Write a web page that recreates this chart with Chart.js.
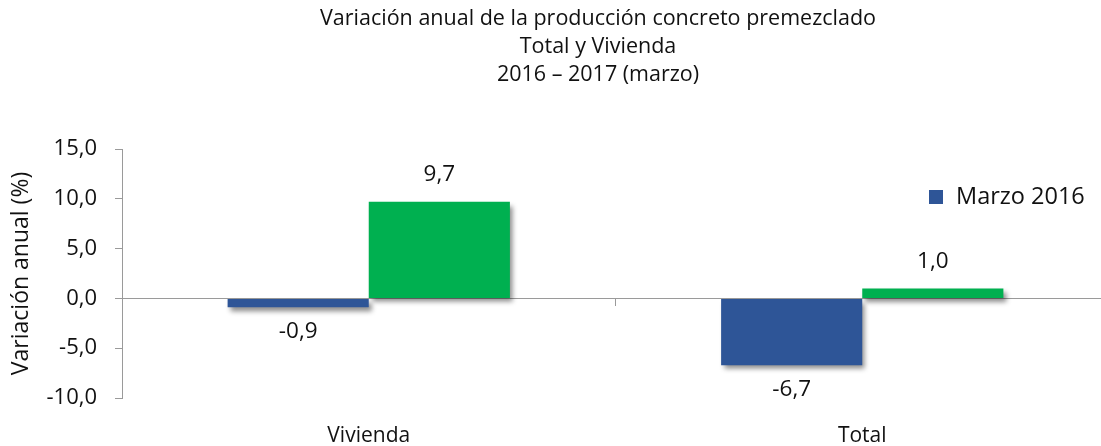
<!DOCTYPE html>
<html>
<head>
<meta charset="utf-8">
<script src="https://cdn.jsdelivr.net/npm/chart.js@4"></script>
<style>
  html, body { margin: 0; padding: 0; background: #fff; overflow: hidden; }
  #wrap { width: 1110px; height: 446px; }
</style>
</head>
<body>
<div id="wrap"><canvas id="myChart" width="1110" height="446"></canvas></div>
<script>
const categories = ['Vivienda', 'Total'];
const marzo2016 = [-0.9, -6.7];
const marzo2017 = [9.7, 1.0];
const seriesNames = ['Marzo 2016', 'Marzo 2017'];
const titleLines = [
  'Variación anual de la producción concreto premezclado',
  'Total y Vivienda',
  '2016 – 2017 (marzo)'
];
const yTitle = 'Variación anual (%)';

const FONT = "'Open Sans', 'Noto Sans', sans-serif";
const fmt = v => v.toFixed(1).replace('.', ',');

// title lines, drawn a bit left of canvas centre like the original
const titlePlugin = {
  id: 'titleLines',
  afterDraw(chart) {
    const ctx = chart.ctx;
    ctx.save();
    ctx.font = '21.5px ' + FONT;
    ctx.fillStyle = '#111';
    ctx.textAlign = 'center';
    ctx.textBaseline = 'middle';
    titleLines.forEach((t, i) => ctx.fillText(t, 598, 19 + i * 28));
    ctx.restore();
  }
};

// soft drop shadow under the bars
const shadowPlugin = {
  id: 'barShadow',
  beforeDatasetsDraw(chart) {
    const ctx = chart.ctx;
    ctx.save();
    ctx.shadowColor = 'rgba(0,0,0,0.45)';
    ctx.shadowBlur = 5;
    ctx.shadowOffsetX = 3;
    ctx.shadowOffsetY = 4;
  },
  afterDatasetsDraw(chart) {
    chart.ctx.restore();
  }
};

// value labels above / below each bar
const valuePlugin = {
  id: 'values',
  afterDatasetsDraw(chart) {
    const ctx = chart.ctx;
    ctx.save();
    ctx.font = '22.5px ' + FONT;
    ctx.fillStyle = '#111';
    ctx.textAlign = 'center';
    ctx.textBaseline = 'middle';
    chart.data.datasets.forEach((ds, di) => {
      chart.getDatasetMeta(di).data.forEach((bar, i) => {
        const v = ds.data[i];
        const y = v >= 0 ? bar.y - 27 : bar.y + 24;
        ctx.fillText(fmt(v), bar.x, y);
      });
    });
    ctx.restore();
  }
};

// only the first series shows in the legend (the second is cut off in the original)
const legendPlugin = {
  id: 'oneLegend',
  afterDraw(chart) {
    const ctx = chart.ctx;
    const ds = chart.data.datasets[0];
    ctx.save();
    ctx.fillStyle = ds.backgroundColor;
    ctx.fillRect(929, 190, 14, 14);
    ctx.font = '23.5px ' + FONT;
    ctx.fillStyle = '#111';
    ctx.textBaseline = 'middle';
    ctx.fillText(ds.label, 956, 197);
    ctx.restore();
  }
};

new Chart(document.getElementById('myChart'), {
  type: 'bar',
  data: {
    labels: categories,
    datasets: [
      { label: seriesNames[0], data: marzo2016, backgroundColor: '#2E5597' },
      { label: seriesNames[1], data: marzo2017, backgroundColor: '#00B050' }
    ]
  },
  options: {
    responsive: false,
    animation: false,
    layout: { padding: { top: 149, right: 1, left: 0, bottom: 0 } },
    datasets: { bar: { categoryPercentage: 0.572, barPercentage: 1.0 } },
    plugins: {
      legend: { display: false },
      title: { display: false },
      tooltip: { enabled: false }
    },
    scales: {
      x: {
        type: 'category',
        position: { y: 0 },
        offset: true,
        ticks: { display: false },
        grid: { display: true, drawOnChartArea: false, offset: true, tickLength: 7, color: '#9a9a9a' },
        border: { color: '#9a9a9a' }
      },
      xLabels: {
        type: 'category',
        position: 'bottom',
        offset: true,
        grid: { display: false },
        border: { display: false },
        ticks: { font: { family: FONT, size: 21 }, color: '#111', padding: 17 },
        afterFit(scale) { scale.height = 48; }
      },
      y: {
        min: -10,
        max: 15,
        ticks: {
          stepSize: 5,
          font: { family: FONT, size: 22 },
          color: '#111',
          padding: 18,
          callback: v => fmt(v)
        },
        grid: { drawOnChartArea: false, tickLength: 7, color: '#9a9a9a' },
        border: { color: '#9a9a9a' },
        title: {
          display: true,
          text: yTitle,
          font: { family: FONT, size: 23 },
          color: '#111',
          padding: { top: 8, bottom: 0 }
        },
        afterFit(scale) { scale.width = 122; }
      }
    }
  },
  plugins: [titlePlugin, shadowPlugin, valuePlugin, legendPlugin]
});
</script>
</body>
</html>
